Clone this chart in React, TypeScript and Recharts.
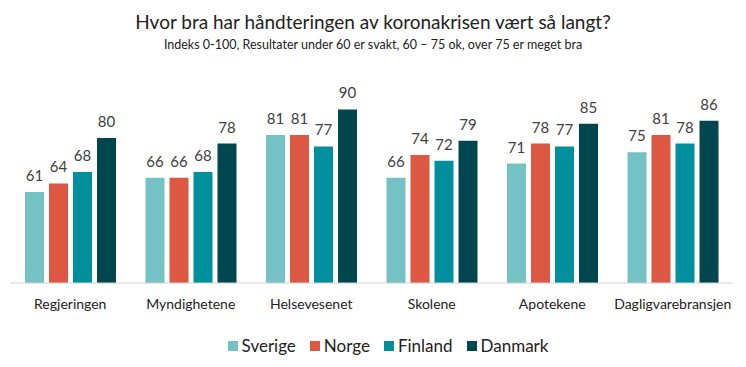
import React from 'react';
import { BarChart, Bar, XAxis, YAxis, LabelList } from 'recharts';

const categories = ['Regjeringen', 'Myndighetene', 'Helsevesenet', 'Skolene', 'Apotekene', 'Dagligvarebransjen'];
const sverige = [61, 66, 81, 66, 71, 75];
const norge = [64, 66, 81, 74, 78, 81];
const finland = [68, 68, 77, 72, 77, 78];
const danmark = [80, 78, 90, 79, 85, 86];

const series = [
  { key: 'Sverige', color: '#74c2c4' },
  { key: 'Norge', color: '#dc5843' },
  { key: 'Finland', color: '#00909d' },
  { key: 'Danmark', color: '#00464f' },
];

const data = categories.map((name, i) => ({
  name,
  Sverige: sverige[i],
  Norge: norge[i],
  Finland: finland[i],
  Danmark: danmark[i],
}));

const font = 'Lato, "Open Sans", sans-serif';

export default function App() {
  return (
    <div style={{ position: 'absolute', left: 0, top: 0, width: 746, height: 367, background: '#fff', fontFamily: font, color: '#222' }}>
      <div style={{ position: 'absolute', top: 10, width: 746, textAlign: 'center', fontSize: 19 }}>
        Hvor bra har håndteringen av koronakrisen vært så langt?
      </div>
      <div style={{ position: 'absolute', top: 37, width: 746, textAlign: 'center', fontSize: 12.5 }}>
        Indeks 0-100, Resultater under 60 er svakt, 60 – 75 ok, over 75 er meget bra
      </div>
      <BarChart width={746} height={367} data={data} margin={{ top: 81, right: 13, left: 10, bottom: 0 }} barSize={19} barGap={5}>
        <XAxis
          dataKey="name"
          height={84}
          tickLine={false}
          axisLine={{ stroke: '#d0d0d0' }}
          tick={{ fontSize: 14, fill: '#222', fontFamily: font }}
          tickMargin={10}
          interval={0}
        />
        <YAxis hide domain={[29, 100]} />
        {series.map((s) => (
          <Bar key={s.key} dataKey={s.key} fill={s.color} isAnimationActive={false}>
            <LabelList dataKey={s.key} position="top" offset={11} style={{ fontSize: 15, fill: '#404040', fontFamily: font }} />
          </Bar>
        ))}
      </BarChart>
      <div style={{ position: 'absolute', top: 335, left: 30, width: 716, display: 'flex', justifyContent: 'center', fontSize: 17 }}>
        {series.map((s) => (
          <div key={s.key} style={{ display: 'flex', alignItems: 'center', margin: '0 7px' }}>
            <span style={{ width: 10, height: 10, background: s.color, display: 'inline-block', marginRight: 4 }} />
            <span>{s.key}</span>
          </div>
        ))}
      </div>
    </div>
  );
}
